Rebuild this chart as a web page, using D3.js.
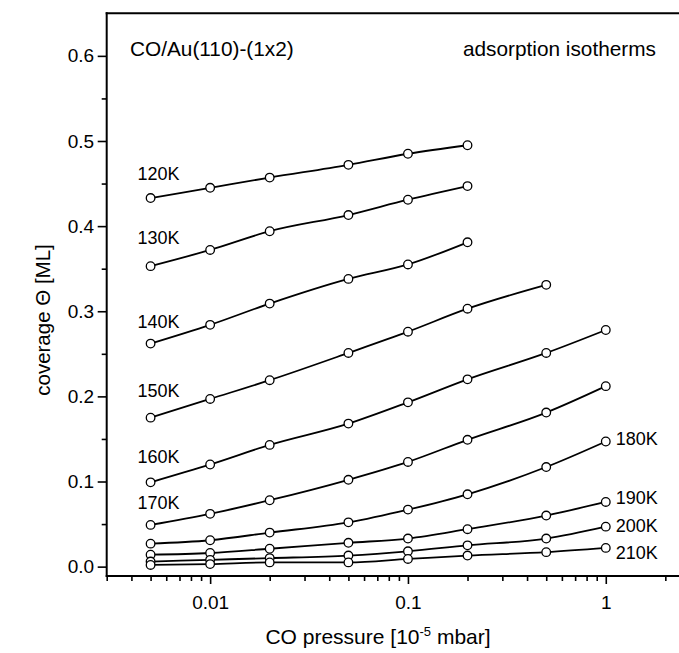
<!DOCTYPE html>
<html>
<head>
<meta charset="utf-8">
<script src="https://cdn.jsdelivr.net/npm/d3@7"></script>
<style>
  html, body { margin: 0; padding: 0; background: #fff; }
  svg { display: block; }
  text { font-family: "Liberation Sans", Arial, Helvetica, sans-serif; fill: #000; }
</style>
</head>
<body>
<svg id="chart" width="679" height="653"></svg>
<script>
// ---- data ----
const pressure = [0.005, 0.01, 0.02, 0.05, 0.1, 0.2, 0.5, 1];
const temperatures = ["120K", "130K", "140K", "150K", "160K", "170K", "180K", "190K", "200K", "210K"];
const cov120 = [0.433, 0.445, 0.457, 0.472, 0.485, 0.495];
const cov130 = [0.353, 0.372, 0.394, 0.413, 0.431, 0.447];
const cov140 = [0.262, 0.284, 0.309, 0.338, 0.355, 0.381];
const cov150 = [0.175, 0.197, 0.219, 0.251, 0.276, 0.303, 0.331];
const cov160 = [0.099, 0.120, 0.143, 0.168, 0.193, 0.220, 0.251, 0.278];
const cov170 = [0.049, 0.062, 0.078, 0.102, 0.123, 0.149, 0.181, 0.212];
const cov180 = [0.027, 0.031, 0.040, 0.052, 0.067, 0.085, 0.117, 0.147];
const cov190 = [0.014, 0.016, 0.021, 0.028, 0.033, 0.044, 0.060, 0.076];
const cov200 = [0.006, 0.008, 0.010, 0.013, 0.018, 0.025, 0.033, 0.047];
const cov210 = [0.002, 0.003, 0.005, 0.005, 0.009, 0.013, 0.017, 0.022];
const coverages = [cov120, cov130, cov140, cov150, cov160, cov170, cov180, cov190, cov200, cov210];

// label anchors (coverage value of the label baseline; side of the curve)
const labelSide = ["left", "left", "left", "left", "left", "left", "right", "right", "right", "right"];
const labelCov = [0.454, 0.379, 0.280, 0.199, 0.122, 0.068, 0.143, 0.074, 0.041, 0.009];

const yMajorTicks = [0, 0.1, 0.2, 0.3, 0.4, 0.5, 0.6];
const yMinorTicks = [0.05, 0.15, 0.25, 0.35, 0.45, 0.55];
const xMajorTicks = [0.01, 0.1, 1];
const xMinorTicks = [0.003, 0.004, 0.005, 0.006, 0.007, 0.008, 0.009,
                     0.02, 0.03, 0.04, 0.05, 0.06, 0.07, 0.08, 0.09,
                     0.2, 0.3, 0.4, 0.5, 0.6, 0.7, 0.8, 0.9, 2];

// ---- layout ----
const svg = d3.select("#chart");
const mLeft = 106.7, mRight = 679, mTop = 13.3, mBottom = 576;

const x = d3.scaleLog().domain([0.003, 2.345]).range([mLeft, mRight]);
const y = d3.scaleLinear().domain([-0.011, 0.65]).range([mBottom, mTop]);

// axes
const yMajor = d3.axisLeft(y).tickValues(yMajorTicks).tickSize(9).tickPadding(3.5)
  .tickFormat(d3.format(".1f")).tickSizeOuter(0);
const yMinor = d3.axisLeft(y).tickValues(yMinorTicks).tickSize(5).tickFormat("").tickSizeOuter(0);
const xMajor = d3.axisBottom(x).tickValues(xMajorTicks).tickSize(8).tickPadding(12)
  .tickFormat(d => String(d)).tickSizeOuter(0);
const xMinor = d3.axisBottom(x).tickValues(xMinorTicks).tickSize(5).tickFormat("").tickSizeOuter(0);

function styleAxis(g) {
  g.select(".domain").remove();
  g.selectAll("line").attr("stroke", "#000").attr("stroke-width", 1.6);
  g.selectAll("text").attr("font-size", 19).attr("fill", "#000")
    .attr("font-family", '"Liberation Sans", Arial, sans-serif');
}
svg.append("g").attr("transform", `translate(${mLeft},0)`).call(yMajor).call(styleAxis);
svg.append("g").attr("transform", `translate(${mLeft},0)`).call(yMinor).call(styleAxis);
svg.append("g").attr("transform", `translate(0,${mBottom})`).call(xMajor).call(styleAxis);
svg.append("g").attr("transform", `translate(0,${mBottom})`).call(xMinor).call(styleAxis);

// frame lines: left, bottom, top
svg.append("line").attr("x1", mLeft).attr("x2", mLeft).attr("y1", mTop - 1).attr("y2", mBottom + 1)
  .attr("stroke", "#000").attr("stroke-width", 2);
svg.append("line").attr("x1", mLeft - 1).attr("x2", mRight).attr("y1", mBottom).attr("y2", mBottom)
  .attr("stroke", "#000").attr("stroke-width", 2);
svg.append("line").attr("x1", mLeft - 1).attr("x2", mRight).attr("y1", mTop).attr("y2", mTop)
  .attr("stroke", "#000").attr("stroke-width", 2);

// series
const line = d3.line()
  .x(d => x(d.p))
  .y(d => y(d.c))
  .curve(d3.curveMonotoneX);

const series = temperatures.map((t, i) => ({
  name: t,
  pts: coverages[i].map((c, j) => ({ p: pressure[j], c }))
}));

const gS = svg.append("g");
series.forEach(s => {
  gS.append("path").datum(s.pts).attr("d", line)
    .attr("fill", "none").attr("stroke", "#000").attr("stroke-width", 1.8);
});
series.forEach(s => {
  gS.selectAll(null).data(s.pts).enter().append("circle")
    .attr("cx", d => x(d.p)).attr("cy", d => y(d.c)).attr("r", 4.3)
    .attr("fill", "#fff").attr("stroke", "#000").attr("stroke-width", 1.3);
});

// series labels
series.forEach((s, i) => {
  const first = s.pts[0], last = s.pts[s.pts.length - 1];
  if (labelSide[i] === "left") {
    svg.append("text").attr("x", x(first.p) - 13).attr("y", y(labelCov[i]))
      .attr("font-size", 18).text(s.name);
  } else {
    svg.append("text").attr("x", x(last.p) + 10).attr("y", y(labelCov[i]))
      .attr("font-size", 18).text(s.name);
  }
});

// annotations
svg.append("text").attr("x", 130).attr("y", 56).attr("font-size", 20.8).text("CO/Au(110)-(1x2)");
svg.append("text").attr("x", 656).attr("y", 56).attr("font-size", 20.8).attr("text-anchor", "end")
  .text("adsorption isotherms");

// axis titles
const xt = svg.append("text").attr("x", 378).attr("y", 644).attr("font-size", 21)
  .attr("text-anchor", "middle");
xt.append("tspan").text("CO pressure [10");
xt.append("tspan").attr("font-size", 13).attr("dy", -8).text("-5");
xt.append("tspan").attr("dy", 8).text(" mbar]");

svg.append("text").attr("transform", "translate(50,320) rotate(-90)")
  .attr("font-size", 20.5).attr("text-anchor", "middle").text("coverage Θ [ML]");
</script>
</body>
</html>
